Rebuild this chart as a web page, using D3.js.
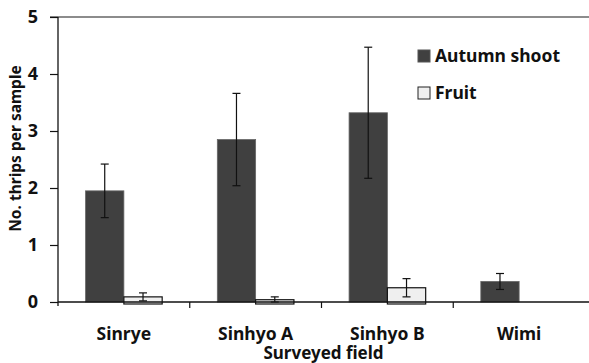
<!DOCTYPE html>
<html>
<head>
<meta charset="utf-8">
<script src="https://cdn.jsdelivr.net/npm/d3@7"></script>
<style>
  body { margin: 0; background: #fff; }
  svg { display: block; }
  text { font-family: "Noto Sans", "Open Sans", sans-serif; font-weight: bold; fill: #111; }
</style>
</head>
<body>
<svg id="chart" width="589" height="363"></svg>
<script>
// Mean thrips counts per sample with standard errors, by surveyed field
const fields = ["Sinrye", "Sinhyo A", "Sinhyo B", "Wimi"];
const seriesNames = ["Autumn shoot", "Fruit"];
const autumnShoot = [1.95, 2.85, 3.32, 0.36];
const autumnShootErr = [0.47, 0.81, 1.15, 0.14];
const fruit = [0.09, 0.04, 0.25, null];
const fruitErr = [0.07, 0.05, 0.16, null];
const yTicks = [0, 1, 2, 3, 4, 5];

const svg = d3.select("#chart");
const margin = { left: 58, right: 4, top: 17, bottom: 61 };
const W = 589, H = 363;

const x = d3.scaleBand().domain(fields).range([margin.left, W - margin.right]);
const xs = d3.scaleBand().domain(seriesNames).range([0, x.bandwidth()]).paddingInner(0).paddingOuter(0.72);
const y = d3.scaleLinear().domain([0, 5]).range([H - margin.bottom, margin.top]);

const fills = { "Autumn shoot": "#404040", "Fruit": "#efefef" };
const strokes = { "Autumn shoot": "#666", "Fruit": "#111" };

// top frame line
svg.append("line")
  .attr("x1", margin.left - 8).attr("x2", W)
  .attr("y1", y(5)).attr("y2", y(5))
  .attr("stroke", "#666").attr("stroke-width", 1.5);

const rows = fields.map((f, i) => ({
  field: f,
  values: [
    { s: "Autumn shoot", v: autumnShoot[i], e: autumnShootErr[i] },
    { s: "Fruit", v: fruit[i], e: fruitErr[i] }
  ].filter(d => d.v !== null)
}));

const groups = svg.append("g").selectAll("g").data(rows).join("g")
  .attr("transform", d => `translate(${x(d.field)},0)`);

groups.selectAll("rect").data(d => d.values).join("rect")
  .attr("x", d => xs(d.s))
  .attr("width", xs.bandwidth())
  .attr("y", d => y(d.v))
  .attr("height", d => y(0) - y(d.v) + (d.s === "Fruit" ? 2 : 0))
  .attr("fill", d => fills[d.s])
  .attr("stroke", d => strokes[d.s])
  .attr("stroke-width", d => d.s === "Fruit" ? 1.2 : 0.8);

// error bars
const eb = groups.selectAll("g.err").data(d => d.values).join("g").attr("class", "err")
  .attr("transform", d => `translate(${xs(d.s) + xs.bandwidth() / 2},0)`);
eb.append("line")
  .attr("y1", d => y(d.v + d.e)).attr("y2", d => y(Math.max(0, d.v - d.e)))
  .attr("stroke", "#111").attr("stroke-width", 1.2);
eb.selectAll("line.cap").data(d => [d.v + d.e, Math.max(0, d.v - d.e)]).join("line")
  .attr("class", "cap")
  .attr("x1", -4).attr("x2", 4)
  .attr("y1", v => y(v)).attr("y2", v => y(v))
  .attr("stroke", "#111").attr("stroke-width", 1.2);

// x axis
const xAxis = svg.append("g").attr("transform", `translate(0,${y(0)})`);
xAxis.append("line").attr("x1", margin.left).attr("x2", W)
  .attr("stroke", "#111").attr("stroke-width", 1.3);
xAxis.selectAll("line.tick").data(fields.slice(1)).join("line")
  .attr("class", "tick")
  .attr("x1", d => x(d)).attr("x2", d => x(d))
  .attr("y1", 0).attr("y2", 6)
  .attr("stroke", "#111").attr("stroke-width", 1.2);
xAxis.selectAll("text").data(fields).join("text")
  .attr("x", d => x(d) + x.bandwidth() / 2)
  .attr("y", 38)
  .attr("text-anchor", "middle")
  .attr("font-size", 17.5)
  .text(d => d);

// y axis
const yAxis = svg.append("g").attr("transform", `translate(${margin.left},0)`)
  .call(d3.axisLeft(y).tickValues(yTicks).tickFormat(d3.format("d")).tickSize(8).tickPadding(12));
yAxis.select(".domain").attr("stroke", "#111").attr("stroke-width", 1.3).attr("d", `M0,${y(5)}V${y(0) + 4}`);
yAxis.selectAll(".tick line").attr("stroke", "#111").attr("stroke-width", 1.2);
yAxis.selectAll(".tick text").attr("font-size", 18).attr("font-family", "'Noto Sans', sans-serif").attr("font-weight", "bold").attr("fill", "#111");

// axis titles
svg.append("text")
  .attr("transform", `translate(21,${(y(0) + y(5)) / 2 - 11}) rotate(-90)`)
  .attr("text-anchor", "middle")
  .attr("font-size", 15.5)
  .text("No. thrips per sample");
svg.append("text")
  .attr("x", (margin.left + W) / 2)
  .attr("y", 359)
  .attr("text-anchor", "middle")
  .attr("font-size", 17)
  .text("Surveyed field");

// legend
const legend = svg.append("g").selectAll("g").data(seriesNames).join("g")
  .attr("transform", (d, i) => `translate(418,${50 + i * 37})`);
legend.append("rect")
  .attr("width", 12).attr("height", 12)
  .attr("fill", d => fills[d])
  .attr("stroke", d => d === "Fruit" ? "#222" : "#555")
  .attr("stroke-width", 1);
legend.append("text")
  .attr("x", 17).attr("y", 6)
  .attr("dy", "0.35em")
  .attr("font-size", 17.5)
  .text(d => d);
</script>
</body>
</html>
